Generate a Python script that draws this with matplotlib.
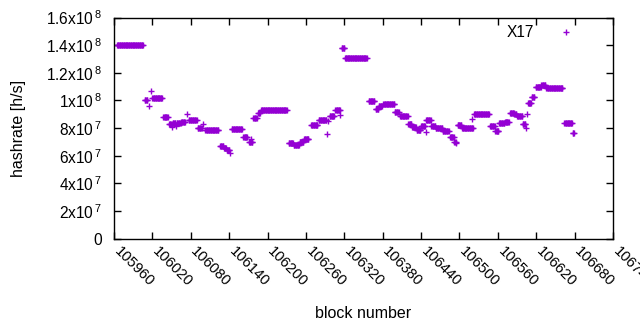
import numpy as np
import matplotlib
matplotlib.use("Agg")
import matplotlib.pyplot as plt
from matplotlib.ticker import FixedLocator, FixedFormatter
from matplotlib.transforms import ScaledTranslation

plt.rcParams['font.family'] = ['Liberation Sans', 'DejaVu Sans']
plt.rcParams['mathtext.fontset'] = 'custom'
plt.rcParams['mathtext.rm'] = 'Liberation Sans'
plt.rcParams['mathtext.it'] = 'Liberation Sans'

# Data: runs of blocks sharing the same hashrate (units of 1e7 h/s)
seg_start = [105965, 106008, 106015, 106018, 106020, 106037, 106046, 106051, 106052, 106057,
             106058, 106065, 106074, 106077, 106091, 106099, 106103, 106126, 106132, 106136,
             106142, 106144, 106162, 106171, 106174, 106178, 106185, 106190, 106233, 106241,
             106250, 106257, 106268, 106280, 106293, 106295, 106297, 106306, 106314, 106316,
             106321, 106358, 106369, 106374, 106381, 106399, 106407, 106420, 106426, 106433,
             106440, 106447, 106448, 106456, 106463, 106474, 106485, 106492, 106495, 106497,
             106504, 106520, 106523, 106548, 106556, 106562, 106571, 106579, 106586, 106590,
             106599, 106604, 106605, 106607, 106613, 106619, 106628, 106636, 106664, 106677]
seg_end = [106005, 106012, 106015, 106018, 106035, 106044, 106050, 106051, 106056, 106057,
           106064, 106071, 106074, 106089, 106097, 106099, 106123, 106131, 106135, 106140,
           106142, 106160, 106168, 106176, 106174, 106183, 106188, 106230, 106240, 106249,
           106256, 106264, 106278, 106292, 106293, 106295, 106304, 106313, 106314, 106320,
           106355, 106367, 106373, 106379, 106398, 106405, 106419, 106425, 106432, 106439,
           106446, 106447, 106455, 106462, 106473, 106483, 106491, 106494, 106495, 106503,
           106521, 106520, 106546, 106555, 106561, 106570, 106577, 106585, 106589, 106598,
           106603, 106604, 106605, 106612, 106617, 106627, 106634, 106661, 106676, 106679]
seg_value = [14.02, 10.0, 9.62, 10.65, 10.17, 8.8, 8.30, 8.05, 8.40, 8.15,
             8.35, 8.45, 9.04, 8.58, 8.0, 8.3, 7.88, 6.74, 6.55, 6.41,
             6.17, 7.9, 7.35, 7.03, 7.2, 8.75, 9.11, 9.30, 6.9, 6.77,
             7.0, 7.22, 8.19, 8.58, 7.59, 8.5, 8.89, 9.28, 8.96, 13.8,
             13.07, 9.96, 9.4, 9.57, 9.76, 9.2, 8.84, 8.29, 8.07, 7.88,
             8.14, 7.71, 8.57, 8.17, 8.0, 7.8, 7.35, 7.0, 6.91, 8.19,
             8.04, 8.65, 9.01, 8.12, 7.78, 8.36, 8.46, 9.12, 9.01, 8.87,
             8.29, 8.0, 9.01, 9.83, 10.22, 10.97, 11.11, 10.87, 8.36, 7.68]

x_ticks = [105960, 106020, 106080, 106140, 106200, 106260, 106320, 106380,
           106440, 106500, 106560, 106620, 106680, 106740]
y_ticks = [0, 2e7, 4e7, 6e7, 8e7, 1e8, 1.2e8, 1.4e8, 1.6e8]
y_labels = ['0', r'2x10$^{\,7}$', r'4x10$^{\,7}$', r'6x10$^{\,7}$', r'8x10$^{\,7}$',
            r'1x10$^{\,8}$', r'1.2x10$^{\,8}$', r'1.4x10$^{\,8}$', r'1.6x10$^{\,8}$']

blocks = []
hashrate = []
for s, e, v in zip(seg_start, seg_end, seg_value):
    b = np.arange(s, e + 1)
    blocks.extend(b.tolist())
    hashrate.extend([v * 1e7] * len(b))

FS = 11.2

fig = plt.figure(figsize=(6.4, 3.3), dpi=100)
ax = fig.add_axes([114/640, 1 - 238.7/330, (613-114)/640, (238.7-17.5)/330])

ax.plot(blocks, hashrate, linestyle='none', marker='+', color='#9400d3',
        ms=5, mew=1.0, label='X17', clip_on=True)

ax.set_xlim(105960, 106740)
ax.set_ylim(0, 1.6e8)
ax.xaxis.set_major_locator(FixedLocator(x_ticks))
ax.xaxis.set_major_formatter(FixedFormatter([str(t) for t in x_ticks]))
ax.yaxis.set_major_locator(FixedLocator(y_ticks))
ax.yaxis.set_major_formatter(FixedFormatter(y_labels))

ax.tick_params(direction='in', length=5, width=1, top=True, right=True,
               colors='black')
ax.tick_params(axis='y', pad=9, labelsize=FS)
ax.tick_params(axis='x', pad=6, labelsize=10.6)
shift = ScaledTranslation(2.5/72, -1/72, fig.dpi_scale_trans)
for lab in ax.get_xticklabels():
    lab.set_rotation(-45)
    lab.set_ha('left')
    lab.set_va('center_baseline')
    lab.set_rotation_mode('anchor')
    lab.set_transform(lab.get_transform() + shift)
for sp in ax.spines.values():
    sp.set_linewidth(1)
    sp.set_color('black')

ax.set_xlabel('block number', fontsize=11.5, labelpad=12)
ax.set_ylabel('hashrate [h/s]', fontsize=11.5, labelpad=14)

ax.legend(loc='upper right', bbox_to_anchor=(0.97, 1.028), frameon=False,
          markerfirst=False, fontsize=FS, handlelength=2.3, handletextpad=0.9,
          numpoints=1)

fig.savefig('out.png', dpi=100)
